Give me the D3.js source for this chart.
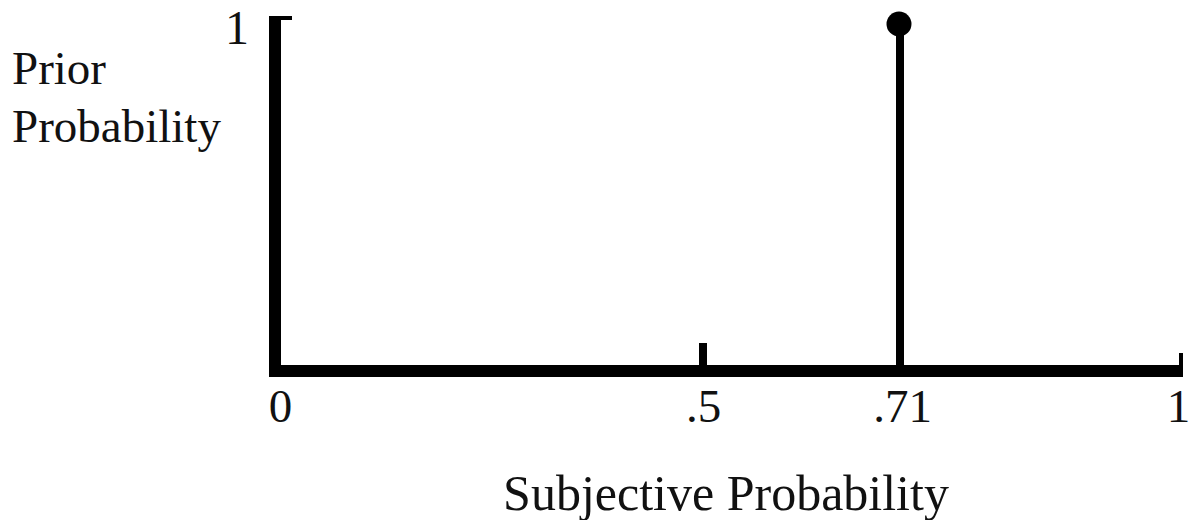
<!DOCTYPE html>
<html>
<head>
<meta charset="utf-8">
<script src="https://cdn.jsdelivr.net/npm/d3@7"></script>
<style>
  body { margin: 0; background: #fff; }
  text { font-family: "Liberation Serif", "DejaVu Serif", serif; fill: #111; }
</style>
</head>
<body>
<div id="chart"></div>
<script>
// data
var xTicks = [0, 0.5, 0.71, 1];
var xTickLabels = ["0", ".5", ".71", "1"];
var yTicks = [1];
var yTickLabels = ["1"];
var pointX = [0.71];
var pointY = [1];
var xTitle = "Subjective Probability";
var yTitle = ["Prior", "Probability"];

var svgWidth = 1194;
var svgHeight = 520;

var svg = d3.select("#chart")
  .append("svg")
  .attr("width", svgWidth)
  .attr("height", svgHeight);

// the drawing is hand-spaced, so the x scale is piecewise
var xScale = d3.scaleLinear()
  .domain(xTicks)
  .range([275, 703, 900, 1181]);

var yScale = d3.scaleLinear()
  .domain([0, 1])
  .range([371, 19]);

var axisW = 12;

// y axis line
svg.append("line")
  .attr("x1", xScale(0)).attr("x2", xScale(0))
  .attr("y1", yScale(0) + axisW / 2).attr("y2", yScale(1) - 3)
  .attr("stroke", "#000").attr("stroke-width", axisW);

// cap at y = 1
svg.append("rect")
  .attr("x", xScale(0) - axisW / 2)
  .attr("y", yScale(1) - 3)
  .attr("width", 23)
  .attr("height", 4)
  .attr("fill", "#000");

// x axis line
svg.append("line")
  .attr("x1", xScale(0) - axisW / 2).attr("x2", xScale(1) + 2)
  .attr("y1", yScale(0)).attr("y2", yScale(0))
  .attr("stroke", "#000").attr("stroke-width", axisW);

// end tick at 1
svg.append("line")
  .attr("x1", xScale(1)).attr("x2", xScale(1))
  .attr("y1", yScale(0) + axisW / 2).attr("y2", yScale(0) - 18)
  .attr("stroke", "#000").attr("stroke-width", 4);

// tick at .5
svg.append("line")
  .attr("x1", xScale(0.5)).attr("x2", xScale(0.5))
  .attr("y1", yScale(0)).attr("y2", yScale(0) - 28)
  .attr("stroke", "#000").attr("stroke-width", 8);

// stem + dot
svg.selectAll(".stem")
  .data(pointX)
  .enter()
  .append("line")
  .attr("class", "stem")
  .attr("x1", d => xScale(d)).attr("x2", d => xScale(d))
  .attr("y1", yScale(0))
  .attr("y2", (d, i) => yScale(pointY[i]) + 5)
  .attr("stroke", "#000").attr("stroke-width", 8);

svg.selectAll(".dot")
  .data(pointX)
  .enter()
  .append("circle")
  .attr("class", "dot")
  .attr("cx", d => xScale(d) - 1)
  .attr("cy", (d, i) => yScale(pointY[i]) + 5)
  .attr("r", 12.5)
  .attr("fill", "#000");

// x tick labels via axis
var bottomAxis = d3.axisBottom(xScale)
  .tickValues(xTicks)
  .tickFormat((d, i) => xTickLabels[i])
  .tickSize(0)
  .tickPadding(0);

var xAxisG = svg.append("g")
  .attr("transform", `translate(0, ${yScale(0) + 51})`)
  .call(bottomAxis);
xAxisG.select(".domain").remove();
xAxisG.selectAll("text")
  .attr("dy", 0)
  .attr("dx", (d, i) => [5, 0, 2, -3][i])
  .style("font-family", '"Liberation Serif", serif')
  .style("font-size", "47px")
  .attr("fill", "#111");

// y tick label
var leftAxis = d3.axisLeft(yScale)
  .tickValues(yTicks)
  .tickFormat((d, i) => yTickLabels[i])
  .tickSize(0)
  .tickPadding(0);

var yAxisG = svg.append("g")
  .attr("transform", `translate(${xScale(0) - 26}, 0)`)
  .call(leftAxis);
yAxisG.select(".domain").remove();
yAxisG.selectAll("text")
  .attr("dy", "0.5em")
  .attr("y", 0)
  .style("font-family", '"Liberation Serif", serif')
  .style("font-size", "48px")
  .attr("fill", "#111");

// titles
svg.append("text")
  .attr("x", 726)
  .attr("y", 510)
  .attr("text-anchor", "middle")
  .style("font-size", "50px")
  .text(xTitle);

svg.selectAll(".ytitle")
  .data(yTitle)
  .enter()
  .append("text")
  .attr("class", "ytitle")
  .attr("x", 12)
  .attr("y", (d, i) => 84 + i * 58)
  .style("font-size", "47px")
  .text(d => d);
</script>
</body>
</html>
